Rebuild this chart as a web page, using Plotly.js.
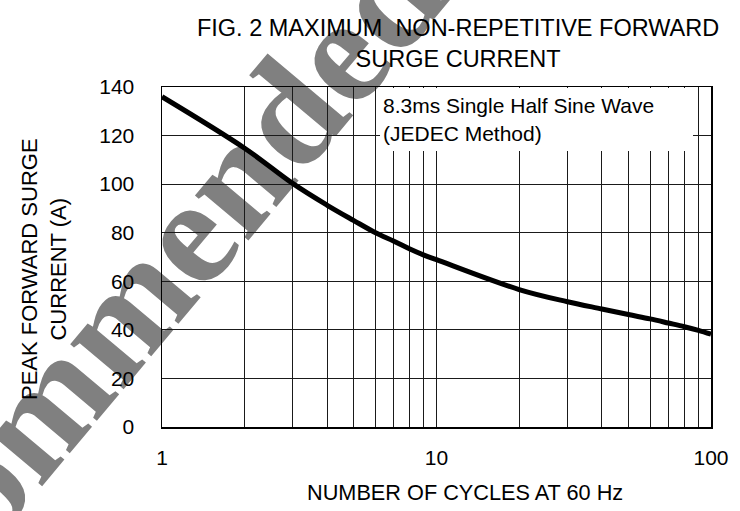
<!DOCTYPE html>
<html>
<head>
<meta charset="utf-8">
<script src="https://cdn.plot.ly/plotly-3.0.1.min.js"></script>
<style>
  html, body { margin: 0; padding: 0; background: #ffffff; }
  #wrap { position: relative; width: 740px; height: 511px; overflow: hidden; }
  #wm { position: absolute; left: 0; top: 0; }
  #chart { position: absolute; left: 0; top: 0; width: 740px; height: 511px; }
</style>
</head>
<body>
<div id="wrap">
  <svg id="wm" width="740" height="511" xmlns="http://www.w3.org/2000/svg">
    <text x="-343" y="945" transform="rotate(-50 -343 945)" font-family="'Liberation Serif', 'Times New Roman', serif" font-weight="bold" font-size="152" fill="#808080">Not Recommended</text>
  </svg>
  <div id="chart"></div>
</div>
<script>
// Number of cycles at 60 Hz (x) and peak forward surge current in A (y)
const cycles  = [1, 2, 3, 4, 5, 6, 7, 8, 9, 10, 20, 30, 40, 50, 60, 70, 80, 90, 100];
const current = [136, 114.8, 100.2, 91.3, 85, 80, 76.5, 73.3, 70.8, 68.9, 56.6, 51.6, 48.6, 46.3, 44.5, 42.8, 41.3, 39.8, 38.2];

// Tick positions/labels of the log x axis (grid at every decade step)
const xTickVals = [1, 2, 3, 4, 5, 6, 7, 8, 9, 10, 20, 30, 40, 50, 60, 70, 80, 90, 100];
const xTickText = ['1', '', '', '', '', '', '', '', '', '10', '', '', '', '', '', '', '', '', '100'];
const yTickVals = [0, 20, 40, 60, 80, 100, 120, 140];

const titleText = 'FIG. 2 MAXIMUM\u00a0 NON-REPETITIVE FORWARD<br>SURGE CURRENT';
const noteText = '8.3ms Single Half Sine Wave<br>(JEDEC Method)';
const xTitle = 'NUMBER OF CYCLES AT 60 Hz';
const yTitle = 'PEAK FORWARD SURGE<br>CURRENT (A)';

const FONT = 'Arial, "Liberation Sans", sans-serif';

const trace = {
  x: cycles,
  y: current,
  type: 'scatter',
  mode: 'lines',
  line: { color: '#000000', width: 5, shape: 'spline', smoothing: 1 },
  hoverinfo: 'skip',
  showlegend: false
};

const layout = {
  width: 740,
  height: 511,
  margin: { l: 162, r: 29, t: 87, b: 84 },
  paper_bgcolor: 'rgba(0,0,0,0)',
  plot_bgcolor: 'rgba(0,0,0,0)',
  font: { family: FONT, color: '#000000', size: 21 },
  title: {
    text: titleText,
    font: { family: FONT, size: 23.5, color: '#000000' },
    xref: 'container', x: 0.619, xanchor: 'center',
    yref: 'container', y: 0.929, yanchor: 'top'
  },
  xaxis: {
    type: 'log',
    range: [0, 2],
    tickmode: 'array',
    tickvals: xTickVals,
    ticktext: xTickText,
    ticks: '',
    ticklabelstandoff: 11,
    showgrid: true,
    gridcolor: '#1a1a1a',
    gridwidth: 1,
    showline: true,
    linecolor: '#000000',
    linewidth: 1.5,
    mirror: true,
    zeroline: false,
    tickfont: { family: FONT, size: 21, color: '#000000' },
    fixedrange: true
  },
  yaxis: {
    range: [0, 140],
    tickmode: 'array',
    tickvals: yTickVals,
    ticks: '',
    ticklabelstandoff: 22,
    showgrid: true,
    gridcolor: '#1a1a1a',
    gridwidth: 1,
    showline: true,
    linecolor: '#000000',
    linewidth: 1.5,
    mirror: true,
    zeroline: false,
    tickfont: { family: FONT, size: 21, color: '#000000' },
    fixedrange: true
  },
  annotations: [
    {
      text: noteText,
      xref: 'paper', yref: 'paper',
      x: 0.397, xanchor: 'left',
      y: 0.9956, yanchor: 'top',
      align: 'left', valign: 'middle',
      width: 307, height: 57,
      borderpad: 3, borderwidth: 0,
      bgcolor: '#ffffff',
      showarrow: false,
      font: { family: FONT, size: 21, color: '#000000' }
    },
    {
      text: xTitle,
      xref: 'paper', yref: 'paper',
      x: 0.552, xanchor: 'center',
      y: -0.194, yanchor: 'middle',
      showarrow: false,
      font: { family: FONT, size: 21.7, color: '#000000' }
    },
    {
      text: yTitle,
      xref: 'paper', yref: 'paper',
      x: -0.2149, xanchor: 'center',
      y: 0.4647, yanchor: 'middle',
      textangle: -90,
      showarrow: false,
      font: { family: FONT, size: 22, color: '#000000' }
    }
  ]
};

Plotly.newPlot('chart', [trace], layout, { displayModeBar: false, staticPlot: true });
</script>
</body>
</html>
